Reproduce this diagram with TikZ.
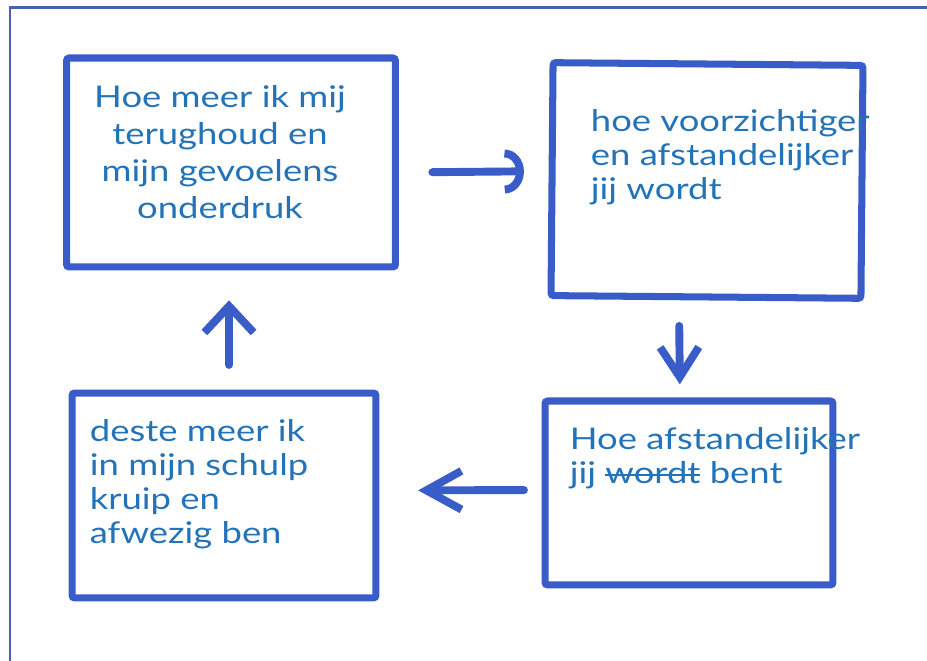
\documentclass[tikz,border=0pt]{standalone}
\usepackage{fontspec}
\setmainfont{Lato}[FakeStretch=1.22]
\usepackage{xcolor}
\usetikzlibrary{arrows.meta}
\definecolor{pen}{RGB}{58,92,200}
\definecolor{ink}{RGB}{35,115,185}
\definecolor{rand}{RGB}{70,100,170}
\newcommand\doorhaal[1]{\leavevmode\setbox0\hbox{#1}\rlap{\raisebox{0.25em}{\rule{\wd0}{1.3pt}}}\box0\relax}

\begin{document}
\begin{tikzpicture}[x=0.02cm,y=-0.02cm,
    box/.style={draw=pen,line width=4pt,rounded corners=1.5pt,inner sep=0pt},
    txt/.style={text=ink,inner sep=0pt,font=\fontsize{17}{19.3}\selectfont},
    pijl/.style={draw=pen,line width=4.5pt,line cap=round,line join=round}]

    \useasboundingbox (0,0) rectangle (927,661);
    \draw[rand,line width=1.7pt] (10,661) -- (10,8) -- (927,8);

    % de vier vakken
    \node[box,minimum width=6.58cm,minimum height=4.18cm] (a) at (231,162.5){};
    \node[box,minimum width=6.2cm,minimum height=4.66cm,rotate=-0.5] (b) at (707,180.5){};
    \node[box,minimum width=5.76cm,minimum height=3.68cm] (c) at (689,493){};
    \node[box,minimum width=6.08cm,minimum height=4.1cm] (d) at (224,495.5){};

    \node[txt,align=center,anchor=north,font=\fontsize{17}{21}\selectfont] (ta) at ([shift={(-11,31)}]a.north){Hoe meer ik mij\\terughoud en\\mijn gevoelens\\onderdruk};
    \node[txt,align=left,anchor=north west] (tb) at ([shift={(41,50)}]b.north west){hoe voorzichtiger\\en afstandelijker\\jij wordt};
    \node[txt,align=left,anchor=north west] (tc) at ([shift={(28,30)}]c.north west){Hoe afstandelijker\\jij \doorhaal{wordt} bent};
    \node[txt,align=left,anchor=north west] (td) at ([shift={(21,30)}]d.north west){deste meer ik\\in mijn schulp\\kruip en\\afwezig ben};

    % pijlen
    \draw[pijl,-{Arc Barb[length=11pt,width=25pt]},shorten <=19pt,shorten >=14pt] ([shift={(0,10)}]a.east) -- ([shift={(0,-8)}]b.west);
    \draw[pijl,-{Straight Barb[length=17pt,width=22pt]},shorten <=14.5pt,shorten >=7.5pt] ([shift={(-27,0)}]b.south) -- ([shift={(-9,0)}]c.north);
    \draw[pijl,-{Straight Barb[length=20pt,width=22pt]},shorten <=10pt,shorten >=22pt] ([shift={(0,-3)}]c.west) -- ([shift={(0,-5)}]d.east);
    \draw[pijl,-{Straight Barb[length=15pt,width=28pt]},shorten <=14pt,shorten >=17pt] ([shift={(5,0)}]d.north) -- ([shift={(-2,0)}]a.south);

\end{tikzpicture}
\end{document}
